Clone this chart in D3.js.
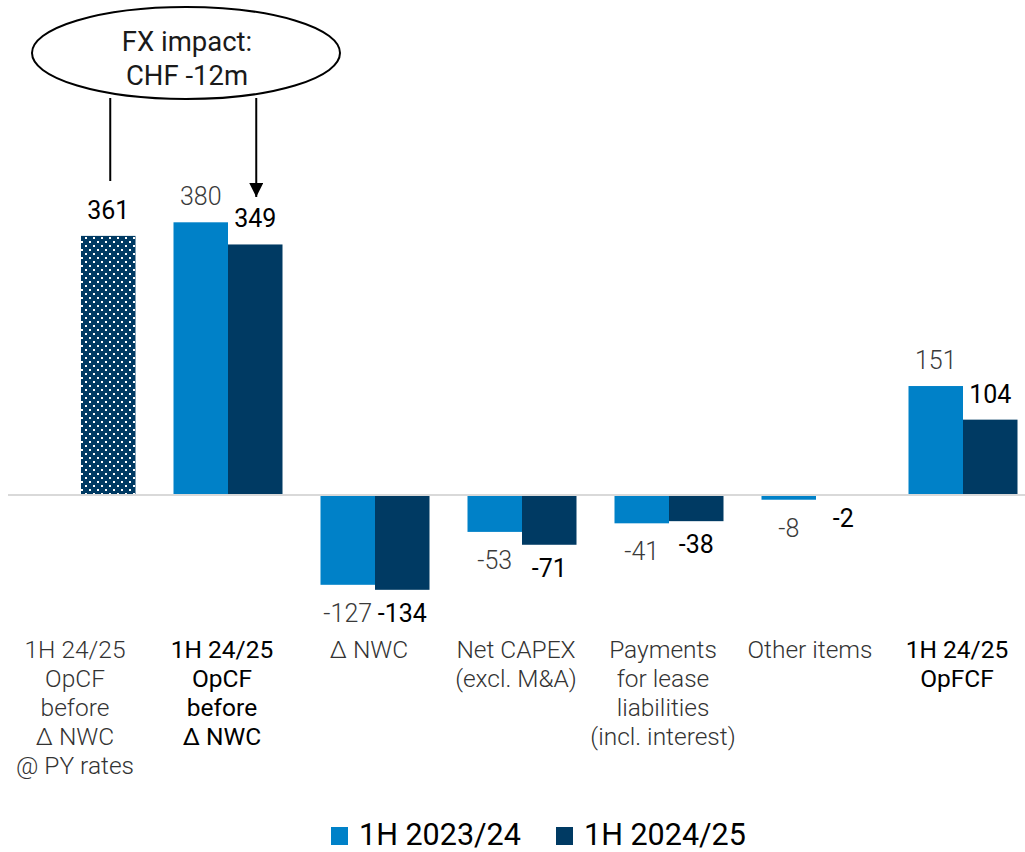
<!DOCTYPE html>
<html>
<head>
<meta charset="utf-8">
<script src="https://cdn.jsdelivr.net/npm/d3@7/dist/d3.min.js"></script>
<style>
  html, body { margin: 0; padding: 0; background: #fff; }
  svg { display: block; font-family: Roboto, "Noto Sans", sans-serif; }
</style>
</head>
<body>
<svg id="chart" width="1025" height="852"></svg>
<script>
// Operating free cash flow bridge, CHF m
const categories = [
  ["1H 24/25", "OpCF", "before", "\u0394 NWC", "@ PY rates"],
  ["1H 24/25", "OpCF", "before", "\u0394 NWC"],
  ["\u0394 NWC"],
  ["Net CAPEX", "(excl. M&A)"],
  ["Payments", "for lease", "liabilities", "(incl. interest)"],
  ["Other items"],
  ["1H 24/25", "OpFCF"]
];
const categoryEmphasis = [false, true, false, false, false, false, true];
const seriesNames = ["1H 2023/24", "1H 2024/25"];
const values2023 = [null, 380, -127, -53, -41, -8, 151];
const values2024 = [361, 349, -134, -71, -38, -2, 104];
const fxNote = ["FX impact:", "CHF -12m"];

const colors = { "1H 2023/24": "#0081C8", "1H 2024/25": "#003A63" };

const svg = d3.select("#chart");

// dotted fill for the constant-currency bar
const defs = svg.append("defs");
const pat = defs.append("pattern")
  .attr("id", "dots").attr("patternUnits", "userSpaceOnUse")
  .attr("width", 8).attr("height", 8);
pat.append("rect").attr("width", 8).attr("height", 8).attr("fill", colors["1H 2024/25"]);
pat.append("rect").attr("x", 1).attr("y", 1).attr("width", 2).attr("height", 2).attr("fill", "#fff");
pat.append("rect").attr("x", 5).attr("y", 5).attr("width", 2).attr("height", 2).attr("fill", "#fff");
defs.append("marker")
  .attr("id", "arrow").attr("viewBox", "0 0 10 10")
  .attr("refX", 10).attr("refY", 5)
  .attr("markerWidth", 7).attr("markerHeight", 7)
  .attr("markerUnits", "strokeWidth")
  .attr("orient", "auto")
  .append("path").attr("d", "M0,0 L10,5 L0,10 Z").attr("fill", "#000");

const idx = d3.range(categories.length);
const x0 = d3.scaleBand().domain(idx).range([7.5, 1036.5]).padding(0);
const x1 = d3.scaleBand().domain(seriesNames)
  .range([(x0.bandwidth() - 109) / 2, (x0.bandwidth() + 109) / 2]).padding(0);
const y = d3.scaleLinear().domain([-200, 400]).range([637, 208]);

const rows = [];
idx.forEach(i => {
  if (values2023[i] !== null) rows.push({ i, s: seriesNames[0], v: values2023[i] });
  if (values2024[i] !== null) rows.push({ i, s: seriesNames[1], v: values2024[i] });
});

const bars = svg.append("g");
bars.selectAll("rect").data(rows).join("rect")
  .attr("x", d => x0(d.i) + x1(d.s))
  .attr("width", x1.bandwidth())
  .attr("y", d => y(Math.max(0, d.v)))
  .attr("height", d => Math.abs(y(d.v) - y(0)))
  .attr("fill", d => (d.i === 0 ? "url(#dots)" : colors[d.s]));

// zero baseline
svg.append("line")
  .attr("x1", 8).attr("x2", 1025)
  .attr("y1", y(0) + 1).attr("y2", y(0) + 1)
  .attr("stroke", "#d9d9d9").attr("stroke-width", 2);

// value labels
svg.append("g").selectAll("text").data(rows).join("text")
  .attr("x", d => x0(d.i) + x1(d.s) + x1.bandwidth() / 2)
  .attr("y", d => d.v >= 0 ? y(d.v) - 17 : y(d.v) + (d.s === seriesNames[0] ? 37 : 32))
  .attr("text-anchor", "middle")
  .attr("font-size", 25)
  .attr("font-weight", d => d.s === seriesNames[0] ? 300 : 400)
  .attr("fill", d => d.s === seriesNames[0] ? "#3a3a3a" : "#000")
  .text(d => d.v);

// category labels
const catG = svg.append("g");
idx.forEach(i => {
  const cx = x0(i) + x0.bandwidth() / 2 - 6;
  const t = catG.append("text")
    .attr("x", cx)
    .attr("y", 658)
    .attr("text-anchor", "middle")
    .attr("font-size", 24.5)
    .attr("font-weight", categoryEmphasis[i] ? 400 : 300)
    .attr("fill", categoryEmphasis[i] ? "#000" : "#333");
  categories[i].forEach((line, k) => {
    t.append("tspan").attr("x", cx)
      .attr("dy", k === 0 ? 0 : 29).text(line);
  });
});

// FX callout
const note = svg.append("g");
note.append("ellipse")
  .attr("cx", 186).attr("cy", 53).attr("rx", 154).attr("ry", 46)
  .attr("fill", "#fff").attr("stroke", "#000").attr("stroke-width", 2);
note.append("text").attr("x", 187).attr("y", 51)
  .attr("text-anchor", "middle").attr("font-size", 27.5).attr("fill", "#1a1a1a")
  .text(fxNote[0]);
note.append("text").attr("x", 187).attr("y", 85)
  .attr("text-anchor", "middle").attr("font-size", 27.5).attr("fill", "#1a1a1a")
  .text(fxNote[1]);
note.append("line")
  .attr("x1", x0(0) + x1(seriesNames[1]) + x1.bandwidth() / 2 + 2).attr("x2", x0(0) + x1(seriesNames[1]) + x1.bandwidth() / 2 + 2)
  .attr("y1", 98).attr("y2", 181)
  .attr("stroke", "#000").attr("stroke-width", 2);
note.append("line")
  .attr("x1", x0(1) + x1(seriesNames[1]) + x1.bandwidth() / 2 + 1).attr("x2", x0(1) + x1(seriesNames[1]) + x1.bandwidth() / 2 + 1)
  .attr("y1", 98).attr("y2", 197)
  .attr("stroke", "#000").attr("stroke-width", 2)
  .attr("marker-end", "url(#arrow)");

// legend
const legend = svg.append("g");
const legendX = [331, 556];
seriesNames.forEach((s, k) => {
  legend.append("rect").attr("x", legendX[k]).attr("y", 827)
    .attr("width", 17).attr("height", 18).attr("fill", colors[s]);
  legend.append("text").attr("x", legendX[k] + 28).attr("y", 845)
    .attr("font-size", 30.5).attr("fill", "#000").text(s);
});
</script>
</body>
</html>
